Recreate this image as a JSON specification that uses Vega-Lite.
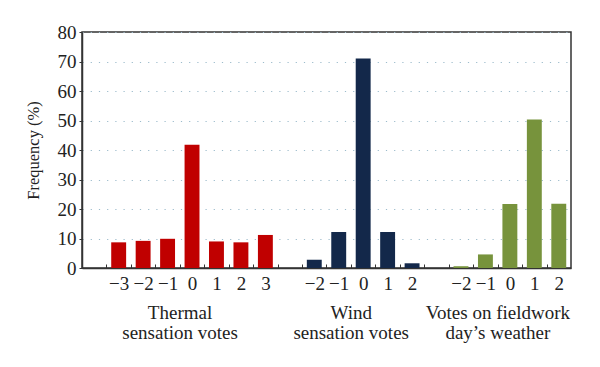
{
  "$schema": "https://vega.github.io/schema/vega-lite/v6.json",
  "width": 489,
  "height": 236,
  "autosize": "none",
  "padding": {"left": 82, "top": 32, "right": 29, "bottom": 99},
  "background": "white",
  "config": {
    "font": "Liberation Serif",
    "view": {"stroke": "#333333", "strokeWidth": 1.5}
  },
  "data": {
    "values": [
      {"group": "Thermal", "cat": "T-3", "freq": 8.7},
      {"group": "Thermal", "cat": "T-2", "freq": 9.2},
      {"group": "Thermal", "cat": "T-1", "freq": 9.9},
      {"group": "Thermal", "cat": "T0", "freq": 41.8},
      {"group": "Thermal", "cat": "T1", "freq": 9.0},
      {"group": "Thermal", "cat": "T2", "freq": 8.7},
      {"group": "Thermal", "cat": "T3", "freq": 11.2},
      {"group": "Wind", "cat": "W-2", "freq": 2.8},
      {"group": "Wind", "cat": "W-1", "freq": 12.2},
      {"group": "Wind", "cat": "W0", "freq": 71.0},
      {"group": "Wind", "cat": "W1", "freq": 12.2},
      {"group": "Wind", "cat": "W2", "freq": 1.6},
      {"group": "Weather", "cat": "V-2", "freq": 0.6},
      {"group": "Weather", "cat": "V-1", "freq": 4.6},
      {"group": "Weather", "cat": "V0", "freq": 21.7},
      {"group": "Weather", "cat": "V1", "freq": 50.3},
      {"group": "Weather", "cat": "V2", "freq": 21.8}
    ]
  },
  "encoding": {
    "y": {
      "field": "freq",
      "type": "quantitative",
      "scale": {"domain": [0, 80], "nice": false},
      "axis": {
        "values": [0, 10, 20, 30, 40, 50, 60, 70, 80],
        "title": "Frequency (%)",
        "titleFont": "Liberation Serif",
        "titleFontSize": 16.5,
        "titleFontWeight": "normal",
        "titleColor": "#222222",
        "titlePadding": 16,
        "labelFontSize": 19,
        "labelColor": "#222222",
        "labelPadding": 3,
        "tickSize": 3,
        "tickColor": "#333333",
        "domainColor": "#333333",
        "domainWidth": 1.5,
        "grid": true,
        "gridColor": "#9dbccc",
        "gridDash": [1.2, 7],
        "gridWidth": 1.2
      }
    }
  },
  "layer": [
    {
      "mark": {"type": "bar"},
      "encoding": {
        "x": {
          "field": "cat",
          "type": "nominal",
          "sort": null,
          "scale": {
            "domain": ["g0", "T-3", "T-2", "T-1", "T0", "T1", "T2", "T3", "g1", "W-2", "W-1", "W0", "W1", "W2", "g2", "V-2", "V-1", "V0", "V1", "V2"],
            "paddingInner": 0.39,
            "paddingOuter": 0.195
          },
          "axis": {
            "orient": "bottom",
            "title": null,
            "values": ["g0", "T-3", "T-2", "T-1", "T0", "T1", "T2", "T3", "g1", "W-2", "W-1", "W0", "W1", "W2", "g2", "V-2", "V-1", "V0", "V1", "V2"],
            "labelExpr": "indexof(datum.value, 'g') == 0 ? '' : replace(slice(datum.value, 1), '-', '−')",
            "labelAngle": 0,
            "labelFontSize": 19,
            "labelColor": "#222222",
            "labelPadding": 10,
            "labelOverlap": false,
            "labelBound": false,
            "bandPosition": 0.5,
            "tickOffset": -12.23,
            "labelOffset": 12.23,
            "tickSize": -4,
            "tickColor": "#333333",
            "domainColor": "#333333",
            "domainWidth": 1.5
          }
        },
        "color": {
          "field": "group",
          "type": "nominal",
          "scale": {"domain": ["Thermal", "Wind", "Weather"], "range": ["#c00000", "#13284a", "#77933c"]},
          "legend": null
        }
      }
    },
    {
      "mark": {"type": "bar", "opacity": 0},
      "encoding": {
        "x": {
          "field": "cat",
          "type": "nominal",
          "sort": null,
          "axis": {
            "orient": "bottom",
            "title": null,
            "values": ["T0", "W0", "V0"],
            "labelExpr": "datum.value == 'T0' ? ['Thermal', 'sensation votes'] : datum.value == 'W0' ? ['Wind', 'sensation votes'] : ['Votes on fieldwork', 'day’s weather']",
            "labelAngle": 0,
            "labelFontSize": 19,
            "labelLineHeight": 20,
            "labelColor": "#222222",
            "labelPadding": 35,
            "labelOffset": -12,
            "labelOverlap": false,
            "labelBound": false,
            "ticks": false,
            "domain": false,
            "grid": false
          }
        }
      }
    }
  ],
  "resolve": {"axis": {"x": "independent"}}
}
